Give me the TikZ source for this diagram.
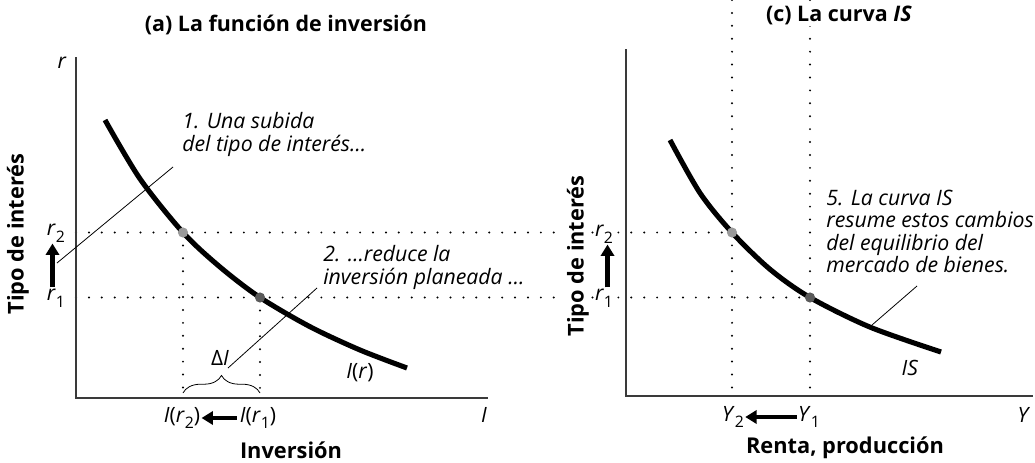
\documentclass[tikz,border=0pt]{standalone}
\usepackage{fontspec}
\setmainfont{Open Sans}
\usetikzlibrary{arrows.meta,decorations.pathreplacing}
\definecolor{ISAxis}{HTML}{3A3A3A}
\definecolor{ISDotHigh}{HTML}{9A9A9A}
\definecolor{ISDotLow}{HTML}{5A5A5A}
\newcommand{\lidx}[1]{\raisebox{-0.6ex}{\fontsize{9}{9}\selectfont #1}}
\tikzset{
  axisline/.style={draw=ISAxis,line width=0.9pt},
  schedule/.style={line width=2.9pt},
  guide/.style={line width=1.25pt,dash pattern=on 0pt off 7.35pt,line cap=round},
  leader/.style={line width=0.45pt},
  movearrow/.style={-{Triangle[length=6.5pt,width=7.5pt]},line width=2.3pt},
  eqdot/.style={circle,inner sep=0pt,minimum size=5.8pt},
  paneltitle/.style={font=\bfseries\fontsize{12.2}{14}\selectfont},
  axistitle/.style={font=\bfseries\fontsize{12.4}{14}\selectfont},
  varlabel/.style={font=\fontsize{12}{14}\selectfont,inner sep=0.6pt},
  note/.style={font=\itshape\fontsize{12.1}{12.8}\selectfont,align=left,inner sep=0pt}
}

\begin{document}
\begin{tikzpicture}[x=0.02cm,y=-0.02cm]
\path[use as bounding box] (0,0) rectangle (1035,463);
\coordinate (topedge) at (0,0);
\coordinate (oa) at (76,398);
\coordinate (ob) at (626,396);
\coordinate (A2) at (183,232.5);
\coordinate (A1) at (260,297.5);
\coordinate (B2) at (732,232.5);
\coordinate (B1) at (810,297.5);

\draw[guide] (A2 -| oa) -- (B2);
\draw[guide] (A1 -| oa) -- (B1);
\draw[guide] (A2) -- (A2 |- oa);
\draw[guide] (A1) -- (A1 |- oa);
\draw[guide] (B2 |- topedge) -- (B2 |- ob);
\draw[guide] (B1 |- topedge) -- (B1 |- ob);

\draw[axisline] (76,57) -- (oa) -- (488,398);
\draw[axisline] (626,49) -- (ob) -- (1033,396);

\draw[schedule] plot[smooth] coordinates {(105,120) (140,178.8) (A2) (220,267) (A1) (310,326.7) (360,350) (407,368)};
\draw[schedule] plot[smooth] coordinates {(670,140) (700,193) (B2) (770,269.3) (B1) (870,327.1) (941,352)};

\node[eqdot,fill=ISDotHigh] (dotA2) at (A2) {};
\node[eqdot,fill=ISDotLow] (dotA1) at (A1) {};
\node[eqdot,fill=ISDotHigh] (dotB2) at (B2) {};
\node[eqdot,fill=ISDotLow] (dotB1) at (B1) {};

\node[paneltitle] (ttla) at (286,25) {(a) La función de inversión};
\node[paneltitle,fill=white,inner sep=1pt] (ttlc) at (839,15) {(c) La curva \textit{IS}};

\node[axistitle,rotate=90] (ytitla) at (18,234) {Tipo de interés};
\node[axistitle,rotate=90,fill=white,inner sep=1pt] (ytitlc) at (578,256) {Tipo de interés};
\node[axistitle] (xtitla) at (291,450) {Inversión};
\node[axistitle] (xtitlc) at (845,448) {Renta, producción};

\node[varlabel] (rtop) at (62,63) {\textit{r}};
\node[varlabel] (xend) at (484,415) {\textit{I}};
\node[varlabel] (yend) at (1024,415) {\textit{Y}};
\node[varlabel] (ra2) at (56,233) {\textit{r}\lidx{2}};
\node[varlabel] (ra1) at (56,298) {\textit{r}\lidx{1}};
\node[varlabel,fill=white] (rc2) at (604,234) {\textit{r}\lidx{2}};
\node[varlabel,fill=white] (rc1) at (604,298) {\textit{r}\lidx{1}};
\node[varlabel] (ir2) at (182,418) {\textit{I}(\textit{r}\lidx{2})};
\node[varlabel] (ir1) at (258,418) {\textit{I}(\textit{r}\lidx{1})};
\node[varlabel] (y2) at (733,417) {\textit{Y}\lidx{2}};
\node[varlabel] (y1) at (809,417) {\textit{Y}\lidx{1}};
\node[varlabel] (deltai) at (220,358) {Δ\textit{I}};
\node[varlabel] (curvea) at (360,373) {\textit{I}(\textit{r})};
\node[varlabel] (curvec) at (910,368) {\textit{IS}};

\draw[movearrow] ([xshift=-2pt]ra1.north) -- ([xshift=-2pt]ra2.south);
\draw[movearrow] ([xshift=2pt]rc1.north) -- ([xshift=2pt]rc2.south);
\draw[movearrow,shorten <=1pt] (ir1.west) -- (ir2.east);
\draw[movearrow] (y1.west) -- (y2.east);

\draw[leader,decorate,decoration={brace,amplitude=10pt}] (183,393) -- (260,393);

\node[note,anchor=west] (note1) at (182,134.5) {1. Una subida\\del tipo de interés…};
\node[note,anchor=west] (note2) at (323,267.5) {2. …reduce la\\inversión planeada …};
\node[note,anchor=west] (note5) at (826,231.5) {5. La curva IS\\resume estos cambios\\del equilibrio del\\mercado de bienes.};

\coordinate (lead1a) at (57,263);
\coordinate (lead1b) at (173,167);
\coordinate (lead2a) at (228,368);
\coordinate (lead2b) at (317,288);
\coordinate (lead5a) at (872,325);
\coordinate (lead5b) at (917,286);
\draw[leader] (lead1a) -- (lead1b);
\draw[leader] (lead2a) -- (lead2b);
\draw[leader] (lead5a) -- (lead5b);
\end{tikzpicture}
\end{document}
